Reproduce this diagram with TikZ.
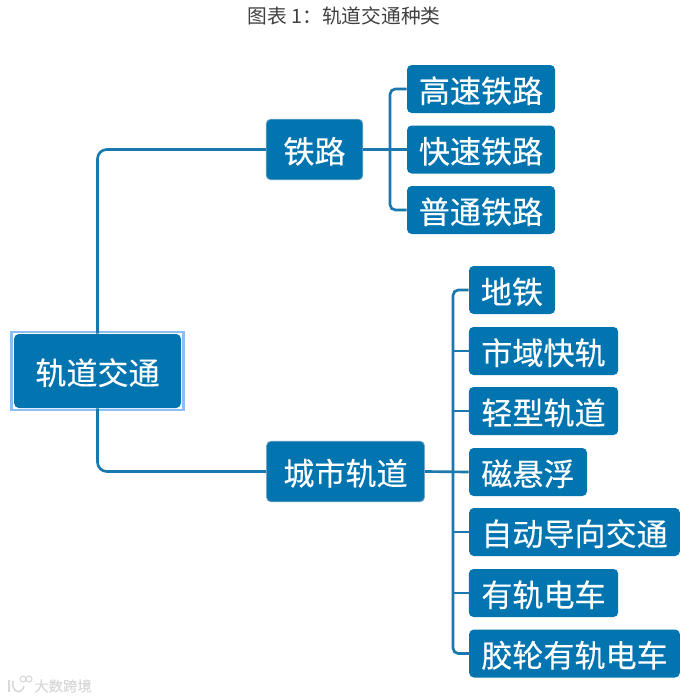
\documentclass[tikz,border=0pt]{standalone}
\usepackage{fontspec}
\setmainfont{Noto Sans CJK SC}
\newfontfamily\boxFont[FakeBold=0.25]{Noto Sans CJK SC}
\definecolor{boxBlue}{HTML}{0274B0}
\definecolor{lineBlue}{HTML}{1A78AE}
\definecolor{edgeBlue}{HTML}{6FA8C8}
\definecolor{frameBlue}{HTML}{8CBDF5}
\definecolor{markGray}{HTML}{D8D8D8}
\begin{document}
\begin{tikzpicture}[x=0.75pt, y=-0.75pt, inner sep=0pt]
            \useasboundingbox (0,0) rectangle (689,700);

            \tikzstyle{myBox}=[rectangle, rounded corners=3.5pt, fill=boxBlue, text=white, font=\boxFont\fontsize{23.3}{23.3}\selectfont, text height=22pt, text depth=1.6pt, minimum height=36pt];
            \tikzstyle{myMain}=[myBox, draw=edgeBlue, line width=0.6pt, minimum height=45.5pt];
            \tikzstyle{myLine}=[draw=lineBlue, line width=2pt, rounded corners=7pt];
            \tikzstyle{myBranch}=[myLine, rounded corners=4pt];

            \node[text=black!75, font=\fontsize{14.8}{14.8}\selectfont] (title) at (344,16) {图表 1：轨道交通种类};

            \node[draw=frameBlue, line width=1.6pt, minimum width=129pt, minimum height=59pt] (frame) at (97.5,371) {};
            \node[myBox, minimum width=125pt, minimum height=55.5pt] (root) at (97.5,371) {轨道交通};

            \node[myMain, minimum width=72.5pt] (rail) at (314.5,149.5) {铁路};
            \node[myMain, minimum width=118.5pt] (urban) at (345.5,471.5) {城市轨道};

            \node[myBox, minimum width=111pt] (high) at (481,89) {高速铁路};
            \node[myBox, minimum width=111pt] (fast) at (481,149.5) {快速铁路};
            \node[myBox, minimum width=111pt] (normal) at (481,210) {普通铁路};

            \node[myBox, minimum width=64.5pt] (metro) at (512,290) {地铁};
            \node[myBox, minimum width=112pt] (suburb) at (543.5,351) {市域快轨};
            \node[myBox, minimum width=112pt] (light) at (543.5,411) {轻型轨道};
            \node[myBox, minimum width=88.5pt] (maglev) at (528,472) {磁悬浮};
            \node[myBox, minimum width=158pt] (agt) at (574.5,532) {自动导向交通};
            \node[myBox, minimum width=112pt] (tram) at (543.5,593) {有轨电车};
            \node[myBox, minimum width=158pt] (rubber) at (574.5,653.5) {胶轮有轨电车};

            \coordinate (railBus) at (390,149.5);
            \coordinate (urbanBus) at (453,471.5);

            \draw[myLine] (root.north) |- (rail.west);
            \draw[myLine] (root.south) |- (urban.west);

            \draw[myBranch] (rail.east) -- (fast.west);
            \draw[myBranch] (high.west) -| (railBus) |- (normal.west);

            \draw[myBranch] (urban.east) -- (maglev.west);
            \draw[myBranch] (metro.west) -| (urbanBus) |- (rubber.west);
            \draw[myBranch] (urbanBus |- suburb.west) -- (suburb.west);
            \draw[myBranch] (urbanBus |- light.west) -- (light.west);
            \draw[myBranch] (urbanBus |- agt.west) -- (agt.west);
            \draw[myBranch] (urbanBus |- tram.west) -- (tram.west);

            % watermark
            \node[text=markGray, font=\boxFont\fontsize{10.8}{10.8}\selectfont] (mark) at (63,686) {大数跨境};
            \draw[markGray, line width=1.2pt] (9,680) -- (9,692);
            \draw[markGray, line width=1.2pt] (13,681) .. controls (11,693) and (22,695) .. (24,686);
            \draw[markGray, line width=0.8pt] (23,679) circle (3);
            \draw[markGray, line width=0.8pt] (29,679) circle (3);
         \end{tikzpicture}
\end{document}
